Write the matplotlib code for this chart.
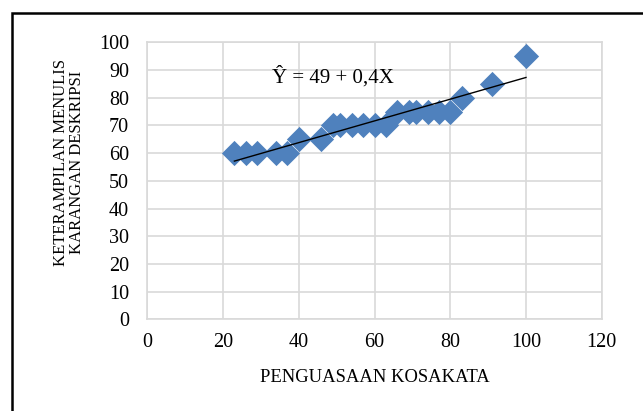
import numpy as np
import matplotlib
matplotlib.use('Agg')
import matplotlib.pyplot as plt
from matplotlib.patches import Rectangle

plt.rcParams['font.family'] = ['Liberation Serif', 'DejaVu Serif']

# penguasaan kosakata (x) vs keterampilan menulis (y)
kosakata = [23, 26, 29, 34, 37, 40, 46, 49, 51, 54, 57, 60, 63, 66, 69, 71, 74, 77, 80, 83, 91, 100]
menulis = [60, 60, 60, 60, 60, 65, 65, 70, 70, 70, 70, 70, 70, 75, 75, 75, 75, 75, 75, 80, 85, 95]
x_ticks = [0, 20, 40, 60, 80, 100, 120]
y_ticks = [0, 10, 20, 30, 40, 50, 60, 70, 80, 90, 100]
equation = 'Ŷ = 49 + 0,4X'

grid_color = '#d9d9d9'
marker_color = '#4f81bd'

fig = plt.figure(figsize=(6.43, 4.11), dpi=100)
ax = fig.add_axes([147.3 / 643, 1 - 319.3 / 411, (601.7 - 147.3) / 643, (319.3 - 42.3) / 411])

ax.scatter(kosakata, menulis, marker='D', s=165, color=marker_color, zorder=3, linewidths=0)

# linear trend line
b, a = np.polyfit(kosakata, menulis, 1)
xs = np.array([min(kosakata), max(kosakata)])
ax.plot(xs, a + b * xs, color='black', lw=1.0, zorder=4)

ax.text(33, 85.3, equation, fontsize=15, color='black', va='baseline', ha='left', zorder=5)

ax.set_xlim(0, 120)
ax.set_ylim(0, 100)
ax.set_xticks(x_ticks)
ax.set_yticks(y_ticks)
ax.tick_params(length=0, labelsize=14.5, colors='black')
ax.tick_params(axis='y', pad=13)
ax.tick_params(axis='x', pad=10)
ax.grid(True, color=grid_color, lw=1.2)
ax.set_axisbelow(True)
for s in ax.spines.values():
    s.set_color(grid_color)
    s.set_linewidth(1.2)

ax.set_xlabel('PENGUASAAN KOSAKATA', fontsize=13.4, labelpad=12)
ax.set_ylabel('KETERAMPILAN MENULIS\nKARANGAN DESKRIPSI', fontsize=12, linespacing=1.0)
ax.yaxis.set_label_coords(-0.137, 0.565)

# outer frame of the chart
fig.patches.append(Rectangle((12 / 643, -0.1), 1.2, 1 - 13 / 411 + 0.1, transform=fig.transFigure,
                             fill=False, edgecolor='black', lw=1.8))

fig.savefig('out.png', dpi=100)
